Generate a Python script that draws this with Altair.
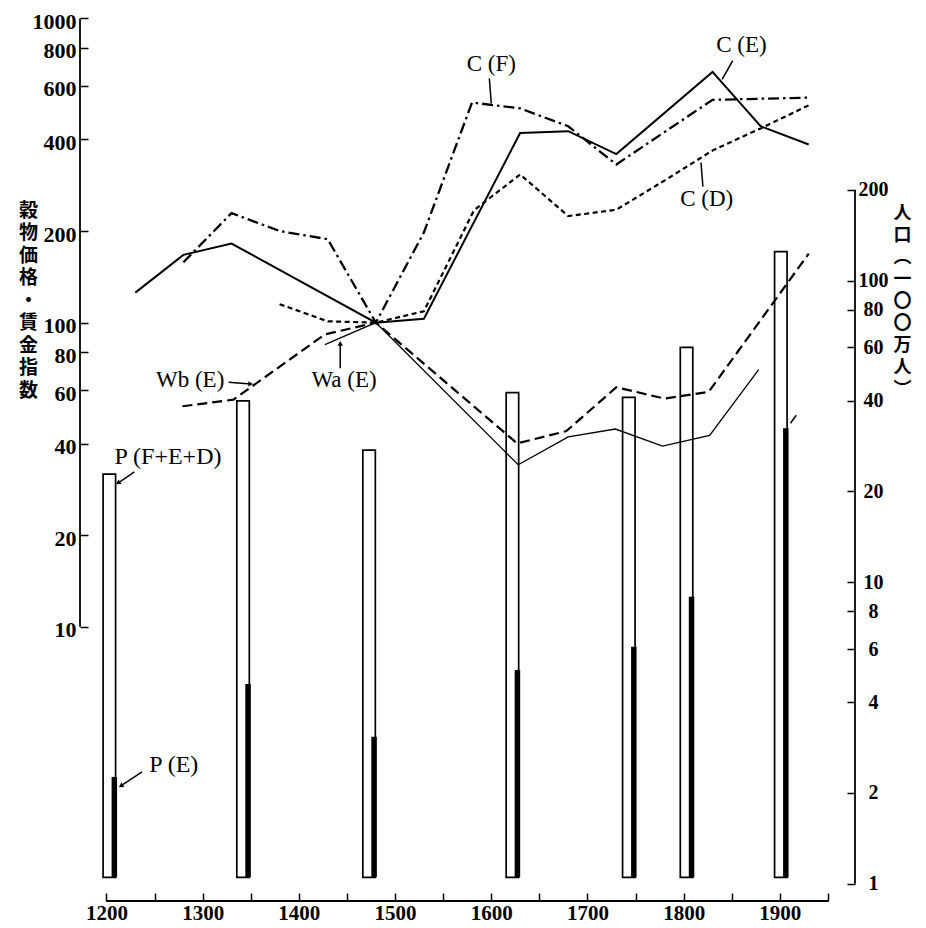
import altair as alt
import pandas as pd

# ---------------- values ----------------
# grain prices / wage indices (left log axis, base = 100)
CE_YEARS = [1230, 1280, 1330, 1480, 1530, 1630, 1680, 1730, 1830, 1880, 1930]
CE_VALUES = [125.5, 167, 182, 100, 103, 420, 426, 358, 667, 442, 385]

CF_YEARS = [1280, 1330, 1380, 1430, 1480, 1530, 1580, 1630, 1680, 1730, 1830, 1930]
CF_VALUES = [158, 229, 200, 188, 100, 198, 529, 506, 442, 331, 540, 549]

CD_YEARS = [1380, 1430, 1480, 1530, 1582, 1630, 1680, 1730, 1780, 1830, 1880, 1930]
CD_VALUES = [115, 101, 100, 109, 234, 307, 224, 235, 293, 368, 435, 518]

WB_YEARS = [1279, 1332, 1427, 1480, 1627, 1678, 1730, 1780, 1826, 1930]
WB_VALUES = [53.1, 55.8, 91.5, 100, 40.1, 44.0, 61.3, 56.3, 59.2, 168.5]

WA_YEARS = [1427, 1480, 1628, 1680, 1729, 1778, 1827, 1878]
WA_VALUES = [84.7, 100, 34.1, 42.1, 44.7, 39.3, 42.6, 70.1]
WA_TAIL_YEARS = [1911, 1917]
WA_TAIL_VALUES = [46.7, 49.6]

# population (right log axis, millions)
POP_YEARS = [1203, 1342, 1473, 1622, 1743, 1803, 1901]
POP_TOTAL = [22.8, 39.9, 27.4, 42.5, 41.0, 60.0, 124.6]
POP_ENGLAND = [2.26, 4.59, 3.07, 5.11, 6.11, 8.94, 32.4]
POP_BASE = 1.05

# axes
X_TICKS = [1200, 1250, 1300, 1350, 1400, 1450, 1500, 1550, 1600, 1650,
           1700, 1750, 1800, 1850, 1900, 1950]
LEFT_TICKS = [10, 20, 40, 60, 80, 100, 200, 400, 600, 800, 1000]
RIGHT_TICKS = [1, 2, 4, 6, 8, 10, 20, 40, 60, 80, 100, 200]
X_DOMAIN = [1177.7, 1972.9]
LEFT_DOMAIN = [1.2558, 1003.0]
RIGHT_DOMAIN = [0.8764, 741.9]
LEFT_AXIS_SPAN = [10, 1000]
RIGHT_AXIS_SPAN = [1, 200]
X_AXIS_SPAN = [1200, 1950]

LEFT_TITLE = ["穀", "物", "価", "格", "・", "賃", "金", "指", "数"]
RIGHT_TITLE = ["人", "口", "︵", "一", "〇", "〇", "万", "人", "︶"]

# annotations (left scale)
LINE_LABELS = ["C (F)", "C (E)", "C (D)", "Wb (E)", "Wa (E)"]
LINE_LABEL_YEARS = [1600, 1860, 1824, 1287, 1447]
LINE_LABEL_VALUES = [706, 815, 254, 64.6, 64.6]
LEADER_START_YEARS = [1598, 1851, 1818, 1327, 1443]
LEADER_START_VALUES = [635, 727, 336, 63.7, 70.8]
LEADER_END_YEARS = [1600, 1840, 1820, 1350, 1443]
LEADER_END_VALUES = [525, 630, 280, 62.9, 85.5]
LEFT_HEAD_YEARS = [1350, 1443]
LEFT_HEAD_VALUES = [62.9, 85.5]
LEFT_HEAD_SHAPES = ["triangle-right", "triangle-up"]
LEFT_HEAD_ANGLES = [0, 0]

# annotations (right scale)
POP_LABELS = ["P (F+E+D)", "P (E)"]
POP_LABEL_YEARS = [1264, 1270]
POP_LABEL_VALUES = [26.0, 2.48]
POP_ARROW_START_YEARS = [1229, 1237]
POP_ARROW_START_VALUES = [23.2, 2.35]
POP_ARROW_END_YEARS = [1212, 1215]
POP_ARROW_END_VALUES = [21.3, 2.11]
POP_HEAD_ANGLES = [237, 238]

# ---------------- styling ----------------
SERIF = "Liberation Serif"
JP = "Noto Sans CJK JP"
W, H = 775, 883

xs = alt.Scale(domain=X_DOMAIN, nice=False, zero=False)
yls = alt.Scale(type="log", domain=LEFT_DOMAIN, nice=False)
yrs = alt.Scale(type="log", domain=RIGHT_DOMAIN, nice=False)

x_axis = alt.Axis(
    values=X_TICKS, format="d",
    labelExpr="datum.value % 100 == 0 ? datum.label : ''",
    orient="bottom", offset=-8, tickSize=8, tickWidth=1.5, tickColor="black",
    domain=False, grid=False, labelPadding=1, labelBaseline="top",
    labelFont=SERIF, labelFontSize=21, labelFontWeight="bold", labelColor="black",
    labelFlush=False, labelOverlap=False,
)
yl_axis = alt.Axis(
    values=LEFT_TICKS, format="d", orient="left", offset=-8, tickSize=8,
    tickWidth=1.5, tickColor="black", domain=False, grid=False, labelPadding=4,
    labelOffset=3,
    labelFont=SERIF, labelFontSize=22, labelFontWeight="bold", labelColor="black",
    labelFlush=False, labelOverlap=False,
    titleAngle=0, titleAlign="center", titleBaseline="top", titleX=-60, titleY=183,
    titleFont=JP, titleFontSize=19, titleFontWeight="bold", titleLineHeight=22.5,
    titleColor="black",
)
yr_axis = alt.Axis(
    values=RIGHT_TICKS, format="d", orient="right", offset=-8, tickSize=8,
    tickWidth=1.5, tickColor="black", domain=False, grid=False, labelPadding=18,
    labelAlign="center",
    labelFont=SERIF, labelFontSize=20, labelFontWeight="bold", labelColor="black",
    labelFlush=False, labelOverlap=False,
    titleAngle=0, titleAlign="center", titleBaseline="top", titleX=55, titleY=186,
    titleFont=JP, titleFontSize=18, titleFontWeight="bold", titleLineHeight=22,
    titleColor="black",
)


def X(f):
    return alt.X(f, type="quantitative", scale=xs, axis=x_axis, title=None)


def YL(f):
    return alt.Y(f, type="quantitative", scale=yls, axis=yl_axis, title=LEFT_TITLE)


def YR(f):
    return alt.Y(f, type="quantitative", scale=yrs, axis=yr_axis, title=RIGHT_TITLE)


def series(years, values):
    return pd.DataFrame({"year": years, "value": values})


def line(df, width, dash=None):
    kw = dict(color="black", strokeWidth=width, clip=False)
    if dash:
        kw["strokeDash"] = dash
    return alt.Chart(df).mark_line(**kw).encode(x=X("year"), y=YL("value"))


# ---------------- right layer: population bars ----------------
pop = pd.DataFrame({"year": POP_YEARS, "total": POP_TOTAL,
                    "england": POP_ENGLAND, "base": [POP_BASE] * len(POP_YEARS)})
white_bars = alt.Chart(pop).mark_bar(
    size=12.5, fill="white", stroke="black", strokeWidth=1.7
).encode(x=X("year"), y=YR("total"), y2=alt.Y2("base"))
black_bars = alt.Chart(pop).mark_bar(size=5.5, color="black", xOffset=5).encode(
    x=X("year"), y=YR("england"), y2=alt.Y2("base"))

right_axis_line = alt.Chart(pd.DataFrame({"lo": [RIGHT_AXIS_SPAN[0]], "hi": [RIGHT_AXIS_SPAN[1]]})
                            ).mark_rule(color="black", strokeWidth=1.8).encode(
    x=alt.value(W), y=YR("lo"), y2=alt.Y2("hi"))

pop_labels = alt.Chart(pd.DataFrame({"year": POP_LABEL_YEARS, "value": POP_LABEL_VALUES,
                                     "label": POP_LABELS})).mark_text(
    font=SERIF, fontSize=24, align="center", baseline="middle", color="black"
).encode(x=X("year"), y=YR("value"), text="label:N")

pop_arrows_df = pd.DataFrame({"x0": POP_ARROW_START_YEARS, "y0": POP_ARROW_START_VALUES,
                              "x1": POP_ARROW_END_YEARS, "y1": POP_ARROW_END_VALUES,
                              "angle": POP_HEAD_ANGLES})
pop_arrows = alt.Chart(pop_arrows_df).mark_rule(color="black", strokeWidth=1.4).encode(
    x=X("x0"), x2=alt.X2("x1"), y=YR("y0"), y2=alt.Y2("y1"))
pop_heads = alt.Chart(pop_arrows_df).mark_point(
    shape="triangle-up", filled=True, size=30, color="black", opacity=1
).encode(x=X("x1"), y=YR("y1"), angle=alt.Angle("angle:Q", scale=None))

right_layer = alt.layer(white_bars, black_bars, right_axis_line, pop_arrows, pop_heads, pop_labels)

# ---------------- left layer: price / wage lines ----------------
ce = line(series(CE_YEARS, CE_VALUES), 2.0)
cf = line(series(CF_YEARS, CF_VALUES), 2.3, [11, 4, 2.5, 4])
cd = line(series(CD_YEARS, CD_VALUES), 2.2, [5, 3.5])
wb = line(series(WB_YEARS, WB_VALUES), 2.2, [10, 5])
wa = line(series(WA_YEARS, WA_VALUES), 1.3)
wa_tail = line(series(WA_TAIL_YEARS, WA_TAIL_VALUES), 1.5)

left_axis_line = alt.Chart(pd.DataFrame({"lo": [LEFT_AXIS_SPAN[0]], "hi": [LEFT_AXIS_SPAN[1]]})
                           ).mark_rule(color="black", strokeWidth=1.8).encode(
    x=alt.value(0), y=YL("lo"), y2=alt.Y2("hi"))
x_axis_line = alt.Chart(pd.DataFrame({"x0": [X_AXIS_SPAN[0]], "x1": [X_AXIS_SPAN[1]]})
                        ).mark_rule(color="black", strokeWidth=1.8).encode(
    x=X("x0"), x2=alt.X2("x1"), y=alt.value(H))

labels = alt.Chart(pd.DataFrame({"year": LINE_LABEL_YEARS, "value": LINE_LABEL_VALUES,
                                 "label": LINE_LABELS})).mark_text(
    font=SERIF, fontSize=23, align="center", baseline="middle", color="black"
).encode(x=X("year"), y=YL("value"), text="label:N")

leaders = alt.Chart(pd.DataFrame({"x0": LEADER_START_YEARS, "y0": LEADER_START_VALUES,
                                  "x1": LEADER_END_YEARS, "y1": LEADER_END_VALUES})
                    ).mark_rule(color="black", strokeWidth=1.5).encode(
    x=X("x0"), x2=alt.X2("x1"), y=YL("y0"), y2=alt.Y2("y1"))
heads = alt.Chart(pd.DataFrame({"year": LEFT_HEAD_YEARS, "value": LEFT_HEAD_VALUES,
                                "shape": LEFT_HEAD_SHAPES, "angle": LEFT_HEAD_ANGLES})
                  ).mark_point(filled=True, size=30, color="black", opacity=1).encode(
    x=X("year"), y=YL("value"),
    shape=alt.Shape("shape:N", scale=None),
    angle=alt.Angle("angle:Q", scale=None))

left_layer = alt.layer(ce, cf, cd, wb, wa, wa_tail, left_axis_line, x_axis_line,
                       leaders, heads, labels)

chart = (
    alt.layer(right_layer, left_layer)
    .resolve_scale(y="independent")
    .properties(width=W, height=H,
                padding={"left": 72, "top": 10, "right": 63, "bottom": 22},
                autosize=alt.AutoSizeParams(type="none"),
                background="white")
    .configure_view(strokeWidth=0)
)

chart.save("out.html", embed_options={"renderer": "svg", "actions": False})
